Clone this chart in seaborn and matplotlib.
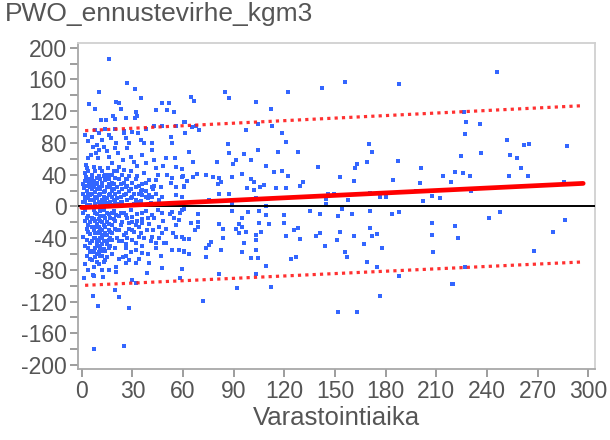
import numpy as np
import pandas as pd
import matplotlib
matplotlib.use("Agg")
import matplotlib.pyplot as plt
import seaborn as sns

title_text = "PWO_ennustevirhe_kgm3"
x_label = "Varastointiaika"
x_ticks = [0, 30, 60, 90, 120, 150, 180, 210, 240, 270, 300]
y_ticks = [-200, -160, -120, -80, -40, 0, 40, 80, 120, 160, 200]

# regression line and prediction band
fit_x = [0, 297]
fit_y = [-1.5, 29]
band_x = [2, 297]
band_upper = [95.5, 127]
band_lower = [-99.5, -70]

right_points = [(245.7,169.7),(226.5,119),(227.8,106.6),(235.7,104),(226.9,91),(252,84),(261.8,77.6),(265,79),
    (287.3,76.3),(224.9,63.7),(236.7,67),(253.4,65),(257.9,61),(260.2,48.6),(221,43),(225.9,41.9),(229.8,38.5),
    (252.8,38.5),(264.2,38.5),(219,31),(285.8,31.3),(230.8,20),(247.5,-7.4),(241,-15),(221,-24.6),(286.2,-17.5),
    (222.7,-40),(279,-32.6),(267.7,-56.6),(226.9,-76),(220,-98)]

mid_points = [(142.4,149),(156.2,157),(188,154.6),(170,79),(171.8,69),(139.8,49.5),(162,49),(163,53.6),(168.9,56),
    (187.2,57),(200.7,48.6),(213.7,38.5),(152.8,37.2),(161.2,31.8),(184.6,33.4),(200.4,30),(218.6,31),(145.9,15.8),
    (149.3,15.8),(170.9,17.4),(176.8,12.4),(180.3,12.4),(197.8,20),(207.2,13.2),(212.1,10.3),(144.6,9),(157.7,7.8),
    (202.3,6.5),(144.4,3),(154.2,-2.7),(141.4,-9.5),(151.8,-12),(160,-9.5),(170.9,-6),(183.9,-9.5),(188,-7),
    (207.2,-21.3),(139,-37),(141,-33),(153.2,-32.6),(150.9,-42),(161.5,-37),(170.9,-27.6),(172,-37),(174.8,-34.7),
    (207.2,-36),(144,-50),(167.1,-47.3),(177.7,-52.8),(156.2,-57.4),(157.1,-63.3),(207.8,-57.4),(168.9,-70),
    (174.8,-76),(188,-87.7),(219.6,-97.8),(176.8,-113),(151.6,-133.5),(163,-133.5)]

center_points = [(64.8,137.8),(66.4,133),(84.6,143.6),(87,137),(122.3,144.5),(103.5,131.9),(112.3,123),(60.9,107),
    (65.4,100),(67.8,101.6),(69.3,96.5),(61,93),(97.2,96.5),(104.7,104),(112.5,101.6),(118.8,92.4),(121.2,81.4),
    (86.4,79),(63.4,68.8),(104.7,71.3),(116.4,68.8),(128.2,68.8),(96.4,66.2),(87,67),(91.3,58.7),(89.7,53.6),
    (100,58.7),(79.9,56),(65.8,56),(109.4,51),(59.5,47),(114.1,43),(118.8,44),(122.3,38.5),(59.9,38.5),(65.8,37.6),
    (68.1,40.6),(73.7,40),(77.6,37.6),(81.1,35.6),(82.5,31.3),(80.5,28.4),(89,36.8),(95.2,41),(100,35),(102.1,31.3),
    (105.5,25),(108.2,26.7),(97.6,23.3),(115.3,23.3),(120.8,23.3),(129,25.9),(131,31.3),(62.2,31.8),(60.3,25.9),
    (81.1,15.8),(87,15.8),(102.3,20.8),(75.2,8.2),(89.3,4),(109.4,0.6),(103.1,10.7),(60.7,-3.5),(68.9,-9.5),(89,-6),
    (98.4,-7),(105.1,-6),(109.4,-11.1),(120,-10.3),(135.3,-6),(64.8,-21.2),(68.7,-19.2),(68.7,-25.5),(67.3,-29.7),
    (81.1,-22),(95.2,-15),(93.3,-22),(95.2,-25.5),(97.2,-31.8),(105.1,-21.2),(111,-22),(120,-21.2),(125.5,-29.7),
    (128.2,-27.5),(106.2,-31.8),(103.5,-36),(83.5,-40),(83.5,-28.8),(91.3,-28.8),(93.3,-33.8),(63.4,-40.6),
    (60.3,-41.4),(121.2,-37.2),(129,-40.6),(76.6,-44.4),(75.2,-48.6),(73.7,-52.7),(103.5,-42.3),(96.4,-46.4),
    (82.5,-54.9),(95.2,-57.4),(103.5,-54.9),(63.4,-60),(60.3,-55.8),(73.7,-63.3),(100.2,-65.4),(104.7,-65.4),
    (127,-63.3),(123.7,-66.7),(109.4,-75),(59.5,-78.5),(81.1,-85),(103.5,-85),(91.7,-102.8),(112.3,-102),(71.7,-118.9)]

left_upper_points = [(16.3,185.7),(26.7,155.5),(31.6,148.3),(10.4,143.6),(4.5,129),(7.8,123),(20.6,132),(21.8,130),
    (34.9,136.5),(47.3,130),(51.6,130),(44.2,121.8),(50.7,121.8),(54.6,118.4),(23.4,122.6),(32,119.6),(33,114.2),
    (31.6,111.3),(11.4,109),(14.3,109),(18.6,114.2),(19.8,110.8),(26.5,111.3),(60.5,106.6),(43,101.6),(47.7,101.6),
    (55.6,101.6),(12,84),(13.3,75.5),(17.3,85.6),(20.2,80.5),(19.8,73.4),(25.1,92.4),(26.1,86),(28,79.7),(33.6,92.4),
    (35.1,84),(36.9,79.7),(41.8,79.7),(41.8,71.3),(52.6,88),(53.6,79.7),(6.5,75.5),(5.5,65),(8.4,67),(10.4,71.3),
    (9.4,60.8),(3.5,60.8),(2.5,52.4),(16.3,62.8),(17.9,54.5),(15.3,48.2),(21.2,67),(24.2,58.7),(22.2,50.2),(27.1,73.4),
    (29,62.8),(31,56.5),(33,51.1),(35.9,65),(37.9,54.5),(42.8,58.7),(43.8,48.2),(48.1,51.1),(49.7,60.8),(55.2,60.8),
    (55.6,50.2),(59.5,37.6),(50.7,39.7),(53.6,35.6),(55.6,25),(52.6,29.3),(43.8,33.4),(46.7,25),(41.8,25),(2.5,37.6),
    (4.5,29.3),(1.5,23),(55.6,14.5),(59.5,12.4),(60.5,25),(41.8,12.4),(47.7,12.4),(35.9,20.8),(37.9,12.4),
    (8,96),(14,97),(20,98),(25,95),(30,94),(2,90),(38,97),(6,88),(10,92),(16,90),(4,82),(9,78),(15,70)]

dense_upper_points = [(1,5),(2,12),(3,20),(1,28),(4,35),(2,42),(5,8),(6,16),(5,25),(7,32),(6,40),(8,3),(8,12),(9,22),
    (9,30),(10,38),(10,6),(11,15),(12,26),(12,44),(13,4),(13,18),(14,33),(15,10),(15,24),(16,40),(17,6),(17,16),
    (18,30),(19,2),(19,22),(20,36),(21,10),(21,45),(22,18),(23,28),(23,5),(24,40),(25,14),(26,24),(26,34),(27,8),
    (28,20),(29,44),(30,12),(30,30),(31,3),(32,25),(33,38),(34,16),(35,7),(36,28),(37,42),(38,20),(39,10),(40,33),
    (41,4),(42,22),(44,15),(45,40),(3,2),(4,16),(7,24),(11,34),(14,8),(18,12),(22,3),(25,30),(28,38),(31,16),(34,26),
    (36,14),(6,30),(9,10),(16,28),(20,6),(24,22),(27,34),(33,6),(13,38),(3,48),(7,50),(11,48),(19,44),(25,46),(2,32),
    (5,2),(8,44),(12,8),(15,36),(18,20),(10,24),(4,10),(1,16)]

dense_upper_extra = [(2,7),(3,26),(4,44),(5,14),(6,22),(6,34),(7,8),(8,18),(8,28),(9,36),(10,14),(11,4),(11,22),
    (12,30),(13,12),(14,20),(14,40),(15,4),(16,14),(16,34),(17,24),(18,40),(19,8),(19,28),(20,16),(21,24),(22,34),
    (23,12),(24,6),(26,16),(27,26),(29,10),(29,22),(32,8),(32,34),(35,20),(38,30),(40,14),(43,26),(46,8)]

dense_lower_points = [(1,-8),(2,-18),(3,-28),(1,-38),(2,-50),(3,-62),(4,-12),(4,-24),(5,-35),(5,-46),(6,-56),(6,-68),
    (7,-5),(7,-16),(7,-30),(8,-40),(8,-52),(8,-64),(9,-10),(9,-22),(9,-34),(10,-44),(10,-58),(10,-72),(11,-6),(11,-18),
    (11,-28),(12,-38),(12,-48),(12,-62),(13,-12),(13,-24),(13,-54),(14,-34),(14,-44),(14,-68),(15,-8),(15,-20),(16,-30),
    (16,-52),(17,-14),(17,-40),(18,-24),(18,-60),(2,-72),(4,-80),(6,-44),(7,-76),(9,-48),(11,-40),(12,-80),(3,-42),
    (5,-20),(8,-26),(10,-32),(6,-14),(13,-70),(15,-64),(16,-42),(19,-6),(20,-18),(21,-30),(22,-44),(23,-8),(24,-20),
    (25,-36),(26,-48),(27,-14),(28,-28),(29,-4),(30,-20),(31,-32),(32,-46),(33,-10),(34,-26),(36,-16),(37,-40),(38,-6),
    (40,-22),(42,-30),(43,-14),(45,-4),(46,-40),(48,-18),(50,-28),(52,-10),(54,-34),(56,-24),(58,-8),(44,-52),(39,-60),
    (34,-66),(29,-58),(24,-44),(20,-52),(22,-66),(18,-42),(26,-62),(36,-50),(50,-46),(47,-62),(7,-88),(9,-60),(11,-52),
    (5,-58),(13,-36),(8,-18)]

dense_lower_extra = [(2,-4),(3,-14),(4,-32),(4,-52),(5,-66),(6,-26),(7,-40),(7,-58),(8,-8),(8,-34),(9,-42),(9,-70),
    (10,-16),(10,-26),(10,-50),(11,-12),(11,-34),(11,-62),(12,-20),(12,-30),(12,-56),(13,-44),(13,-4),(14,-14),
    (14,-26),(14,-56),(15,-36),(15,-48),(16,-10),(16,-22),(17,-32),(17,-50),(18,-8),(18,-34),(19,-16),(20,-28),
    (21,-40),(22,-12),(23,-24),(25,-8),(27,-40),(30,-30),(33,-18),(35,-34),(39,-14),(41,-44)]

left_lower_points = [(6.5,-113),(9.4,-125.6),(19.8,-106),(22.2,-113.8),(28,-128.5),(7.4,-180),(25.1,-176),(1.5,-90.6),
    (6.5,-86.4),(12.4,-88.6),(20.2,-82.3),(20.2,-76),(16.3,-80),(30,-92.7),(32,-97),(38.9,-83.5),(47.7,-78),(58.5,-90.6),
    (39.8,-71.7),(32,-71),(26.1,-71),(53.6,-55),(57.5,-55),(60.5,-57),(48.7,-46.4),(43.8,-46.4),(32,-55),(35.9,-59),
    (26.1,-52.7),(57.5,-17),(54.6,-15),(55.6,-38),(59.5,-38),(38.9,-29.7),(41.8,-38),(45.8,-25.5),(47.7,-33.8),
    (28,-21.2),(32,-23.3),(35.9,-21.2),(22.2,-29.7),(26.1,-33.8),(30,-42.3),(33.9,-38),(24.2,-63.3),(28,-67.5),
    (35.9,-8.6),(41.8,-10.7),(47.7,-8.6),(53.6,-6.6),(59.5,-4.4),(20.2,-10.7),(26.1,-10.7),(30,-12.9)]

all_pts = (right_points + mid_points + center_points + left_upper_points + dense_upper_points +
           dense_upper_extra + dense_lower_points + dense_lower_extra + left_lower_points)
df = pd.DataFrame(all_pts, columns=["x", "y"])

sns.set_theme(style="white")
plt.rcParams['font.family'] = ['Liberation Sans', 'DejaVu Sans']

fig = plt.figure(figsize=(6.1, 4.4), dpi=100)
ax = fig.add_axes([78/610, 1 - 369/440, (595 - 78)/610, (369 - 43)/440])

sns.scatterplot(data=df, x="x", y="y", ax=ax, marker="s", s=9, color="#3366FF",
                linewidth=0, zorder=2)
ax.axhline(0, color="black", linewidth=1.4, zorder=3)
sns.lineplot(x=band_x, y=band_upper, ax=ax, color="#FF1A1A", linewidth=2.3,
             linestyle=(0, (1, 1.3)), zorder=4, alpha=0.9)
sns.lineplot(x=band_x, y=band_lower, ax=ax, color="#FF1A1A", linewidth=2.3,
             linestyle=(0, (1, 1.3)), zorder=4, alpha=0.9)
sns.lineplot(x=fit_x, y=fit_y, ax=ax, color="#FF0000", linewidth=3.4, zorder=5)

ax.set_xlim(-2.2, 304)
ax.set_ylim(-205, 206)
ax.set_xticks(x_ticks)
ax.set_yticks(y_ticks)
ax.set_yticks(np.arange(-180, 200, 40), minor=True)
ax.set_xticklabels([str(t) for t in x_ticks])
ax.set_yticklabels([str(t) for t in y_ticks])

tick_color = "#555555"
ax.tick_params(axis="both", which="both", direction="out", length=6, width=1.2,
               color="#8C8C8C", labelsize=16.5, labelcolor=tick_color, pad=2)
ax.tick_params(axis="y", which="both", left=True)
ax.tick_params(axis="x", which="both", bottom=True)
for sp in ax.spines.values():
    sp.set_color("#D0D0D0")
    sp.set_linewidth(1.3)
ax.spines["left"].set_color("#A8A8A8")
ax.spines["bottom"].set_color("#A8A8A8")

ax.set_xlabel(x_label, fontsize=18.5, color=tick_color, labelpad=2)
ax.set_ylabel("")
fig.text(5/610, 1 - 2/440, title_text, fontsize=19, color=tick_color,
         ha="left", va="top")

fig.savefig("out.png", dpi=100)
